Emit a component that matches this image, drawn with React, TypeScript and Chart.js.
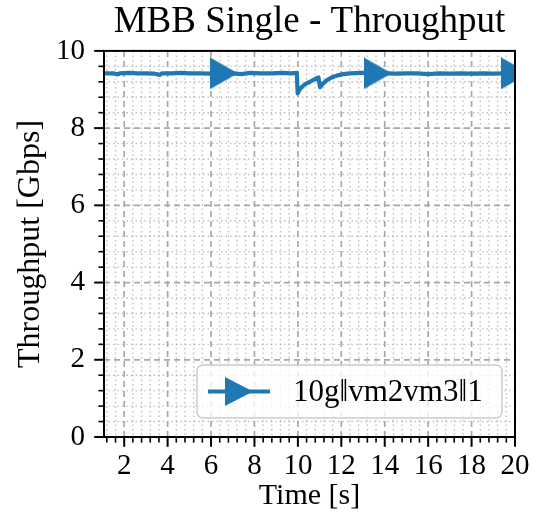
import React, { useEffect, useRef } from "react";
import { Chart, registerables } from "chart.js";

Chart.register(...registerables);

// ---- data ----
const timeS = [
  1.07, 1.5, 1.7, 1.8, 2.2, 2.6, 3.0, 3.4, 3.65, 3.75, 4.2, 4.6, 5.0, 5.5, 6.0,
  6.59, 7.0, 7.4, 7.8, 8.3, 8.8, 9.3, 9.7, 9.95, 9.99, 10.1, 10.25, 10.4, 10.56,
  10.75, 10.95, 11.02, 11.1, 11.33, 11.55, 11.79, 12.1, 12.4, 12.9, 13.3, 13.67,
  14.1, 14.5, 15.0, 15.5, 16.0, 16.5, 17.0, 17.5, 18.0, 18.5, 19.0, 19.5, 20.0,
];
const throughputGbps = [
  9.42, 9.42, 9.39, 9.42, 9.43, 9.42, 9.42, 9.41, 9.38, 9.42, 9.42, 9.43, 9.42, 9.42, 9.41,
  9.42, 9.42, 9.4, 9.43, 9.42, 9.42, 9.43, 9.42, 9.43, 8.9, 9.02, 9.1, 9.16, 9.2,
  9.26, 9.31, 9.06, 9.12, 9.24, 9.31, 9.36, 9.4, 9.42, 9.43, 9.43, 9.42,
  9.42, 9.41, 9.42, 9.42, 9.4, 9.42, 9.41, 9.42, 9.41, 9.42, 9.41, 9.42, 9.42,
];
const markerTimes = [6.59, 13.67, 20.0];
const xMajorTicks = [2, 4, 6, 8, 10, 12, 14, 16, 18, 20];
const yMajorTicks = [0, 2, 4, 6, 8, 10];
const seriesLabel = "10g\u2016vm2vm3\u20161";
const chartTitle = "MBB Single - Throughput";
const xTitle = "Time [s]";
const yTitle = "Throughput [Gbps]";
const X_MIN = 1.07;
const X_MAX = 20;
const Y_MIN = 0;
const Y_MAX = 10;
const MINOR_STEP = 0.4;

// ---- styles ----
const BLUE = "#1f77b4";
const FONT_FAMILY = "'Liberation Serif', 'Times New Roman', serif";
const W = 536;
const H = 527;

function minorValues(min: number, max: number, majors: number[]) {
  const out: number[] = [];
  const k0 = Math.ceil(min / MINOR_STEP - 1e-9);
  const k1 = Math.floor(max / MINOR_STEP + 1e-9);
  for (let k = k0; k <= k1; k++) {
    const v = Math.round(k * MINOR_STEP * 1000) / 1000;
    if (!majors.some((m) => Math.abs(m - v) < 1e-6)) out.push(v);
  }
  return out;
}

function makeTriangle(w: number, h: number) {
  const c = document.createElement("canvas");
  c.width = w;
  c.height = h;
  const g = c.getContext("2d")!;
  g.fillStyle = BLUE;
  g.beginPath();
  g.moveTo(0, 0);
  g.lineTo(w, h / 2);
  g.lineTo(0, h);
  g.closePath();
  g.fill();
  return c;
}

export default function App() {
  const ref = useRef<HTMLCanvasElement | null>(null);

  useEffect(() => {
    if (!ref.current) return;
    const tri = makeTriangle(28, 32);
    const legendTri = makeTriangle(28, 29);

    const mplPlugin = {
      id: "mplDecor",
      beforeDatasetsDraw(chart: any) {
        const { ctx, chartArea: a, scales } = chart;
        const xs = scales.x;
        const ys = scales.y;
        ctx.save();
        // minor grid (dotted)
        ctx.strokeStyle = "rgba(150,150,150,0.6)";
        ctx.lineWidth = 1.4;
        ctx.setLineDash([1.5, 3]);
        for (const v of minorValues(X_MIN, X_MAX, xMajorTicks)) {
          const px = xs.getPixelForValue(v);
          ctx.beginPath();
          ctx.moveTo(px, a.top);
          ctx.lineTo(px, a.bottom);
          ctx.stroke();
        }
        for (const v of minorValues(Y_MIN, Y_MAX, yMajorTicks)) {
          const py = ys.getPixelForValue(v);
          ctx.beginPath();
          ctx.moveTo(a.left, py);
          ctx.lineTo(a.right, py);
          ctx.stroke();
        }
        // major grid (dashed)
        ctx.strokeStyle = "#a8a8a8";
        ctx.lineWidth = 1.7;
        ctx.setLineDash([6, 4]);
        for (const v of xMajorTicks) {
          const px = xs.getPixelForValue(v);
          ctx.beginPath();
          ctx.moveTo(px, a.top);
          ctx.lineTo(px, a.bottom);
          ctx.stroke();
        }
        for (const v of yMajorTicks) {
          const py = ys.getPixelForValue(v);
          ctx.beginPath();
          ctx.moveTo(a.left, py);
          ctx.lineTo(a.right, py);
          ctx.stroke();
        }
        ctx.restore();
      },
      afterDatasetsDraw(chart: any) {
        const { ctx, chartArea: a, scales } = chart;
        const xs = scales.x;
        const ys = scales.y;
        ctx.save();
        ctx.setLineDash([]);
        ctx.strokeStyle = "#000";
        // spines
        ctx.lineWidth = 2;
        ctx.strokeRect(a.left, a.top, a.right - a.left, a.bottom - a.top);
        // ticks
        const tick = (x1: number, y1: number, x2: number, y2: number, lw: number) => {
          ctx.lineWidth = lw;
          ctx.beginPath();
          ctx.moveTo(x1, y1);
          ctx.lineTo(x2, y2);
          ctx.stroke();
        };
        for (const v of xMajorTicks) {
          const px = xs.getPixelForValue(v);
          tick(px, a.bottom, px, a.bottom + 9.8, 2);
        }
        for (const v of minorValues(X_MIN, X_MAX, xMajorTicks)) {
          const px = xs.getPixelForValue(v);
          tick(px, a.bottom, px, a.bottom + 5.6, 1.6);
        }
        for (const v of yMajorTicks) {
          const py = ys.getPixelForValue(v);
          tick(a.left, py, a.left - 9.8, py, 2);
        }
        for (const v of minorValues(Y_MIN, Y_MAX, yMajorTicks)) {
          const py = ys.getPixelForValue(v);
          tick(a.left, py, a.left - 5.6, py, 1.6);
        }

        // legend (lower right)
        const bx = a.right - 318;
        const by = a.bottom - 72;
        const bw = 305;
        const bh = 53;
        const r = 6;
        ctx.fillStyle = "rgba(255,255,255,0.8)";
        ctx.strokeStyle = "#cccccc";
        ctx.lineWidth = 1.5;
        ctx.beginPath();
        ctx.moveTo(bx + r, by);
        ctx.arcTo(bx + bw, by, bx + bw, by + bh, r);
        ctx.arcTo(bx + bw, by + bh, bx, by + bh, r);
        ctx.arcTo(bx, by + bh, bx, by, r);
        ctx.arcTo(bx, by, bx + bw, by, r);
        ctx.closePath();
        ctx.fill();
        ctx.stroke();
        const ly = by + bh / 2;
        ctx.strokeStyle = BLUE;
        ctx.lineWidth = 4.2;
        ctx.beginPath();
        ctx.moveTo(bx + 11, ly);
        ctx.lineTo(bx + 73, ly);
        ctx.stroke();
        ctx.drawImage(legendTri, bx + 42 - legendTri.width / 2, ly - legendTri.height / 2);
        ctx.fillStyle = "#000";
        ctx.font = `31px ${FONT_FAMILY}`;
        ctx.textBaseline = "middle";
        ctx.textAlign = "left";
        ctx.fillText(seriesLabel, bx + 96, ly + 1);
        ctx.restore();
      },
    };

    const tickFont = { family: FONT_FAMILY, size: 29, weight: "normal" as const };

    const chart = new Chart(ref.current, {
      type: "line",
      data: {
        datasets: [
          {
            label: seriesLabel,
            data: timeS.map((t, i) => ({ x: t, y: throughputGbps[i] })),
            borderColor: BLUE,
            backgroundColor: BLUE,
            borderWidth: 4.2,
            borderJoinStyle: "round",
            tension: 0,
            pointStyle: tri as any,
            pointRadius: (c: any) =>
              c.raw && markerTimes.some((m) => Math.abs(m - c.raw.x) < 1e-6) ? 15 : 0,
            pointHoverRadius: 0,
          },
        ],
      },
      options: {
        responsive: false,
        animation: false,
        devicePixelRatio: 1,
        events: [],
        layout: { padding: { left: 0, right: 21, top: 0, bottom: 0 } },
        plugins: {
          legend: { display: false },
          tooltip: { enabled: false },
          title: {
            display: true,
            text: chartTitle,
            fullSize: false,
            color: "#000",
            font: { family: FONT_FAMILY, size: 37, weight: "normal" },
            padding: { top: 0.5, bottom: 6 },
          },
        },
        scales: {
          x: {
            type: "linear",
            min: X_MIN,
            max: X_MAX,
            afterBuildTicks: (s: any) => {
              s.ticks = xMajorTicks.map((v) => ({ value: v }));
            },
            afterFit: (s: any) => {
              s.height = 90;
              s.paddingLeft = 0;
              s.paddingRight = 0;
            },
            grid: { display: false, drawTicks: false },
            border: { display: false },
            ticks: {
              color: "#000",
              font: tickFont,
              padding: 12,
              maxRotation: 0,
              autoSkip: false,
              callback: (v: any) => String(v),
            },
            title: {
              display: true,
              text: xTitle,
              color: "#000",
              font: { family: FONT_FAMILY, size: 30, weight: "normal" },
              padding: { top: 0, bottom: 13 },
            },
          },
          y: {
            type: "linear",
            min: Y_MIN,
            max: Y_MAX,
            afterBuildTicks: (s: any) => {
              s.ticks = yMajorTicks.map((v) => ({ value: v }));
            },
            afterFit: (s: any) => {
              s.width = 104;
              s.paddingTop = 0;
              s.paddingBottom = 0;
            },
            grid: { display: false, drawTicks: false },
            border: { display: false },
            ticks: {
              color: "#000",
              font: tickFont,
              padding: 19,
              autoSkip: false,
              callback: (v: any) => String(v),
            },
            title: {
              display: true,
              text: yTitle,
              color: "#000",
              font: { family: FONT_FAMILY, size: 32, weight: "normal" },
              padding: { top: 11, bottom: 0 },
            },
          },
        },
      },
      plugins: [mplPlugin],
    });
    return () => chart.destroy();
  }, []);

  return (
    <div style={{ position: "fixed", left: 0, top: 0, width: W, height: H, background: "#fff" }}>
      <canvas ref={ref} width={W} height={H} style={{ width: W, height: H, display: "block" }} />
    </div>
  );
}
